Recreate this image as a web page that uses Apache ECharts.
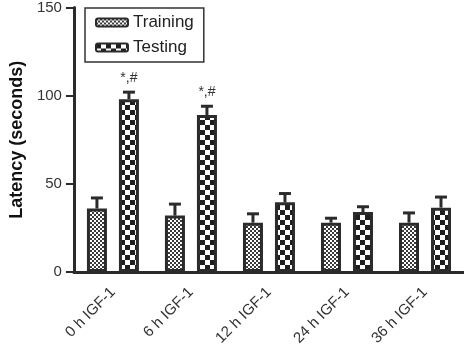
<!DOCTYPE html>
<html><head><meta charset="utf-8">
<script src="https://cdn.jsdelivr.net/npm/echarts@6/dist/echarts.min.js"></script>
<style>html,body{margin:0;padding:0;background:#fff}#c{width:464px;height:350px}</style>
</head><body><div id="c"></div>
<script>
const categories = ['0 h IGF-1','6 h IGF-1','12 h IGF-1','24 h IGF-1','36 h IGF-1'];
const trainingMean = [36, 32, 28, 28, 28];
const trainingErr  = [6, 6.5, 5, 2.5, 5.5];
const testingMean  = [98, 89, 39.5, 34, 36.5];
const testingErr   = [4, 5, 5, 3, 6];
const testingNotes = ['*,#', '*,#', '', '', ''];
const yTicks = [0, 50, 100, 150];

const DARK = '#2b2b2b';
function checker(size, dark, light) {
  const c = document.createElement('canvas');
  c.width = size * 2; c.height = size * 2;
  const g = c.getContext('2d');
  g.fillStyle = light; g.fillRect(0, 0, size * 2, size * 2);
  g.fillStyle = dark;
  g.fillRect(0, 0, size, size);
  g.fillRect(size, size, size, size);
  return c;
}
const fineP = { image: checker(2, '#3a3a3a', '#ffffff'), repeat: 'repeat' };
const bigP = { image: checker(5, '#1e1e1e', '#ffffff'), repeat: 'repeat' };

const BAR_W = 20, OFFSET = 16;
function errSeries(name, means, errs, off, notes) {
  return {
    type: 'custom', name: name + ' err', z: 3, silent: true,
    data: means.map((m, i) => [i, m, m + errs[i]]),
    renderItem: function (params, api) {
      const top = api.coord([api.value(0), api.value(1)]);
      const cap = api.coord([api.value(0), api.value(2)]);
      const x = top[0] + off;
      const children = [
        { type: 'line', shape: { x1: x, y1: top[1], x2: x, y2: cap[1] }, style: { stroke: DARK, lineWidth: 3 } },
        { type: 'line', shape: { x1: x - 6, y1: cap[1], x2: x + 6, y2: cap[1] }, style: { stroke: DARK, lineWidth: 3 } }
      ];
      const note = notes ? notes[params.dataIndex] : '';
      if (note) {
        children.push({ type: 'text', style: { text: note, x: x, y: cap[1] - 7, align: 'center', verticalAlign: 'bottom', fontSize: 14, fill: '#333', fontFamily: 'Liberation Sans, Arial' } });
      }
      return { type: 'group', children: children };
    }
  };
}

const chart = echarts.init(document.getElementById('c'), null, { renderer: 'canvas' });
chart.setOption({
  animation: false,
  textStyle: { fontFamily: 'Liberation Sans, Arial, sans-serif' },
  grid: { left: 67, top: 6, width: 400, height: 266, containLabel: false },
  legend: {
    left: 85, top: 8, orient: 'vertical',
    data: ['Training', 'Testing'],
    borderColor: '#333', borderWidth: 1.5, borderRadius: 0,
    padding: [6, 10, 6, 10], itemGap: 8,
    itemWidth: 32, itemHeight: 8,
    textStyle: { fontSize: 17, color: '#222' }
  },
  xAxis: {
    type: 'category', data: categories,
    axisLine: { lineStyle: { color: DARK, width: 3 } },
    axisTick: { alignWithLabel: true, length: 8, lineStyle: { color: DARK, width: 2 } },
    axisLabel: { rotate: 45, fontSize: 15, color: '#333', margin: 18 }
  },
  yAxis: {
    type: 'value', min: 0, max: 150, interval: 50,
    name: 'Latency (seconds)', nameLocation: 'middle', nameGap: 44,
    nameTextStyle: { fontSize: 18, fontWeight: 'bold', color: '#111' },
    axisLine: { show: true, lineStyle: { color: DARK, width: 3 } },
    axisTick: { show: true, length: 8, lineStyle: { color: DARK, width: 2 } },
    axisLabel: { fontSize: 15, color: '#333', margin: 12,
      formatter: v => yTicks.indexOf(v) >= 0 ? String(v) : '' },
    splitLine: { show: false }
  },
  series: [
    { name: 'Training', type: 'bar', data: trainingMean, barWidth: BAR_W, barGap: '60%', z: 4,
      itemStyle: { color: fineP, borderColor: DARK, borderWidth: 3 } },
    { name: 'Testing', type: 'bar', data: testingMean, barWidth: BAR_W, barGap: '60%', z: 4,
      itemStyle: { color: bigP, borderColor: DARK, borderWidth: 3 } },
    errSeries('Training', trainingMean, trainingErr, -OFFSET, null),
    errSeries('Testing', testingMean, testingErr, OFFSET, testingNotes)
  ]
});
</script></body></html>
